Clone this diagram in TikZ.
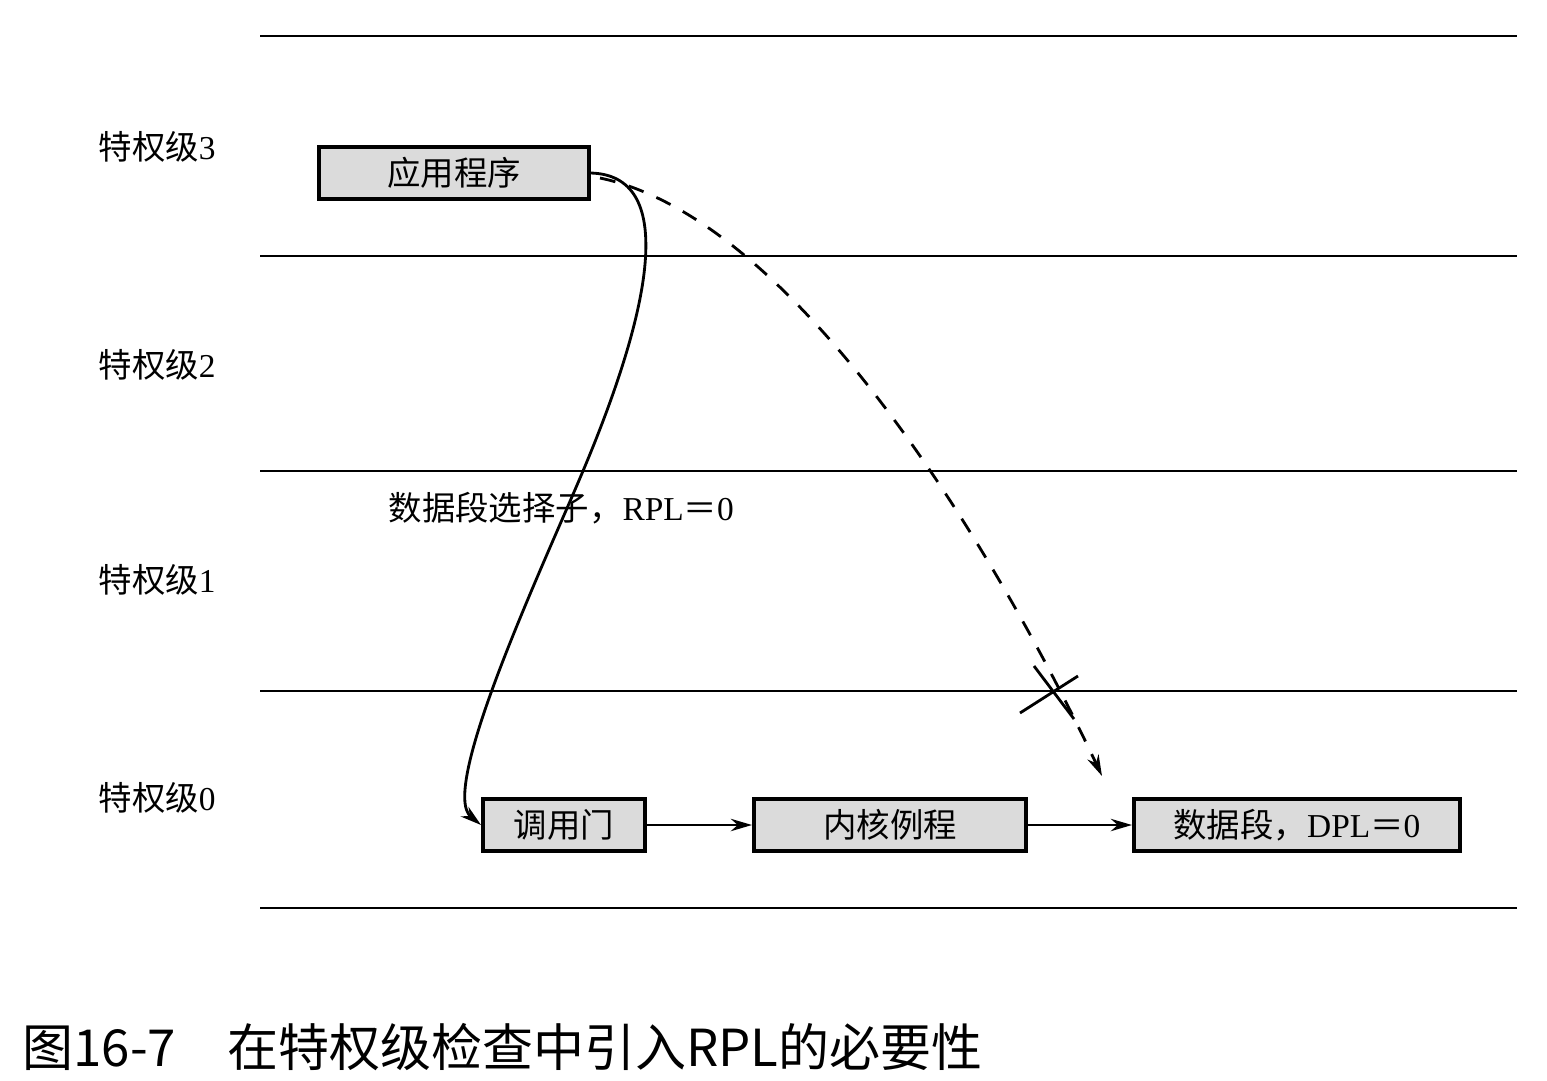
\documentclass[tikz,border=0pt]{standalone}
\usepackage{fontspec}
\setmainfont{Liberation Serif}
\newfontfamily\cjk{Noto Sans CJK SC}
\usetikzlibrary{arrows.meta, positioning, calc}

\begin{document}
\begin{tikzpicture}[x=0.01cm, y=-0.01cm, >={Stealth[length=6pt,width=3.5pt]},
  lvlbox/.style={draw, line width=1.1pt, fill=gray!28, inner sep=0pt,
    minimum height=0.52cm, font=\fontsize{9.5}{11}\selectfont},
  lvltext/.style={anchor=west, inner sep=0pt, font=\fontsize{9.5}{11}\selectfont}]
\useasboundingbox (0,0) rectangle (1547,1081);
% privilege level boundaries
\foreach \y in {36,256,471,691,908}
  \draw[line width=0.75pt] (260,\y) -- (1517,\y);
\foreach \n/\y in {3/147,2/365,1/580,0/798}
  \node[lvltext] (lv\n) at (98,\y) {{\cjk 特权级}\n};
% segments
\node[lvlbox, minimum width=2.69cm] (app) at (454,173) {\cjk 应用程序};
\node[lvlbox, minimum width=1.62cm] (gate) at (564,825) {\cjk 调用门};
\node[lvlbox, minimum width=2.72cm] (kern) at (890,825) {\cjk 内核例程};
\node[lvlbox, minimum width=3.26cm] (data) at (1297,825) {{\cjk 数据段，}DPL{\cjk ＝}0};
\node[lvltext] (sel) at (388,508) {{\cjk 数据段选择子，}RPL{\cjk ＝}0};
% call path
\draw[->, thick] (app.east) .. controls (675,175) and (655,300) .. (583,471)
  .. controls (543,566) and (438,790) .. (gate.west);
\draw[->, thick] (gate) -- (kern);
\draw[->, thick] (kern) -- (data);
% direct access, refused
\coordinate (dstart) at (600,178);
\coordinate (dend) at (1102,776);
\draw[->, thick, dash pattern=on 4.5pt off 4pt] (dstart) .. controls (800,220) and (1000,560) .. (dend);
\coordinate (cut) at (1052,691);
\draw[thick] ($(cut)+(-32,22)$) -- ($(cut)+(26,-15)$);
\draw[thick] ($(cut)+(-18,-25)$) -- ($(cut)+(22,28)$);
% caption
\node[anchor=west, inner sep=0pt, font=\cjk\fontsize{14.5}{16}\selectfont] (cap) at (22,1047)
  {图16-7\quad 在特权级检查中引入RPL的必要性};
\end{tikzpicture}
\end{document}
